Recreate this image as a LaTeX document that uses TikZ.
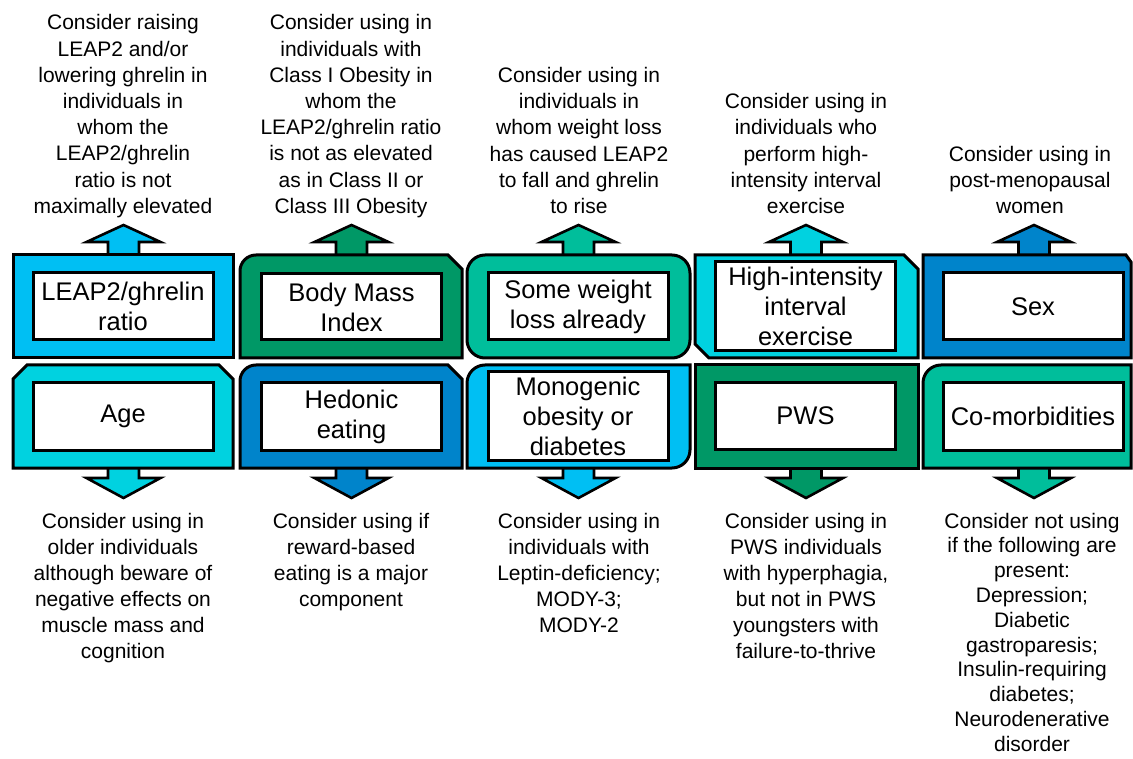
\documentclass[tikz,border=0pt]{standalone}
\usepackage{fontspec}
\setmainfont{Liberation Sans}
\definecolor{cLB}{RGB}{0,191,243}
\definecolor{cCY}{RGB}{0,210,224}
\definecolor{cGR}{RGB}{0,152,102}
\definecolor{cBL}{RGB}{0,132,203}
\definecolor{cTL}{RGB}{0,190,155}
\tikzset{
  panel/.style={draw=black, line width=3pt, line join=miter},
  inbox/.style={draw=black, line width=3pt, fill=white, minimum width=180pt, inner sep=0pt, align=center, font=\fontsize{25.5}{30}\selectfont},
  arr/.style={draw=black, line width=2.6pt, line join=miter},
  note/.style={align=center, inner sep=0pt, anchor=north, font=\fontsize{21}{26.2}\selectfont},
  noteb/.style={note, font=\fontsize{21}{26}\selectfont},
  notec/.style={note, font=\fontsize{21}{24.8}\selectfont}
}
\newcommand\UpArr[2]{\draw[arr,fill=#2,shift={(#1,0)}] (-15.5,258) -- (-15.5,242) -- (-37,242) -- (0,225) -- (37,242) -- (15.5,242) -- (15.5,258) -- cycle;}
\newcommand\DnArr[2]{\draw[arr,fill=#2,shift={(#1,0)}] (-15.5,465) -- (-15.5,478) -- (-37,478) -- (0,498) -- (37,478) -- (15.5,478) -- (15.5,465) -- cycle;}
\begin{document}
\begin{tikzpicture}[x=1pt,y=-1pt]
\useasboundingbox (0,0) rectangle (1133,759);
\clip (0,0) rectangle (1133,759);
% arrows
\UpArr{123.5}{cLB}
\UpArr{351.5}{cGR}
\UpArr{578.5}{cTL}
\UpArr{806}{cCY}
\UpArr{1034}{cBL}
\DnArr{123.5}{cCY}
\DnArr{351.5}{cBL}
\DnArr{578.5}{cLB}
\DnArr{806}{cGR}
\DnArr{1034}{cTL}
% panels
\draw[panel,fill=cLB] (13,255) rectangle (233,358);
\draw[panel,fill=cCY] (13,379) -- (27,365) -- (219,365) -- (233,379) -- (233,468) -- (13,468) -- cycle;
\draw[panel,fill=cGR] (240,271) .. controls (240,262.2) and (247.2,255) .. (256,255) -- (448,255) -- (462,269) -- (462,358) -- (240,358) -- cycle;
\draw[panel,fill=cBL] (240,381) .. controls (240,372.2) and (247.2,365) .. (256,365) -- (448,365) -- (462,379) -- (462,468) -- (240,468) -- cycle;
\draw[panel,fill=cTL,rounded corners=18pt] (467,255) rectangle (690,358);
\draw[panel,fill=cLB] (467,383) .. controls (467,373.1) and (475.1,365) .. (485,365) -- (690,365) -- (690,450) .. controls (690,459.9) and (681.9,468) .. (672,468) -- (467,468) -- cycle;
\draw[panel,fill=cCY] (695,255) -- (904,255) -- (918,269) -- (918,358) -- (709,358) -- (695,344) -- cycle;
\draw[panel,fill=cGR] (695,365) rectangle (918,468);
\draw[panel,fill=cBL] (923,255) -- (1126,255) -- (1131,262) -- (1131,358) -- (923,358) -- cycle;
\draw[panel,fill=cTL] (923,383) .. controls (923,373.1) and (931.1,365) .. (941,365) -- (1131,365) -- (1131,468) -- (923,468) -- cycle;
% inner boxes
\node[inbox,minimum height=67pt] (b1t) at (123,306.5) {LEAP2/ghrelin\\ratio};
\node[inbox,minimum height=67pt] (b1b) at (123,416.5) {Age};
\node[inbox,minimum height=66pt] (b2t) at (351.5,307) {Body Mass\\Index};
\node[inbox,minimum height=67pt] (b2b) at (351.5,416.5) {Hedonic\\eating};
\node[inbox,minimum height=67pt] (b3t) at (578,306.5) {Some weight\\loss already};
\node[inbox,minimum height=88pt] (b3b) at (578,416) {Monogenic\\obesity or\\diabetes};
\node[inbox,minimum height=89pt] (b4t) at (805.5,306.5) {High-intensity\\interval\\exercise};
\node[inbox,minimum height=66pt] (b4b) at (805.5,416) {PWS};
\node[inbox,minimum height=67pt] (b5t) at (1033,306.5) {Sex};
\node[inbox,minimum height=67pt] (b5b) at (1033,416.5) {Co-morbidities};
% top notes
\node[note] (t1) at (123,14.5) {Consider raising\\LEAP2 and/or\\lowering ghrelin in\\individuals in\\whom the\\LEAP2/ghrelin\\ratio is not\\maximally elevated};
\node[note] (t2) at (351,14.5) {Consider using in\\individuals with\\Class I Obesity in\\whom the\\LEAP2/ghrelin ratio\\is not as elevated\\as in Class II or\\Class III Obesity};
\node[note] (t3) at (579,67) {Consider using in\\individuals in\\whom weight loss\\has caused LEAP2\\to fall and ghrelin\\to rise};
\node[note] (t4) at (806,93.2) {Consider using in\\individuals who\\perform high-\\intensity interval\\exercise};
\node[note] (t5) at (1030,145.6) {Consider using in\\post-menopausal\\women};
% bottom notes
\node[noteb] (u1) at (123,512.7) {Consider using in\\older individuals\\although beware of\\negative effects on\\muscle mass and\\cognition};
\node[noteb] (u2) at (351,512.7) {Consider using if\\reward-based\\eating is a major\\component};
\node[noteb] (u3) at (579,512.7) {Consider using in\\individuals with\\Leptin-deficiency;\\MODY-3;\\MODY-2};
\node[noteb] (u4) at (806,512.7) {Consider using in\\PWS individuals\\with hyperphagia,\\but not in PWS\\youngsters with\\failure-to-thrive};
\node[notec] (u5) at (1032,512.7) {Consider not using\\if the following are\\present:\\Depression;\\Diabetic\\gastroparesis;\\Insulin-requiring\\diabetes;\\Neurodenerative\\disorder};
\end{tikzpicture}
\end{document}
